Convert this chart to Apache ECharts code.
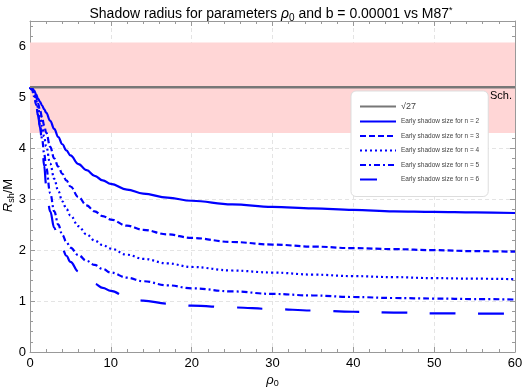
<!DOCTYPE html>
<html>
<head>
<meta charset="utf-8">
<script src="https://cdn.jsdelivr.net/npm/echarts@6/dist/echarts.min.js"></script>
<style>
html,body{margin:0;padding:0;background:#fff;}
#chart{width:523px;height:392px;}
</style>
</head>
<body>
<div id="chart"></div>
<script>
// ---- data ----
const xs = [0, 0.25, 0.5, 0.75, 1, 1.25, 1.5, 1.75, 2, 2.5, 3, 3.5, 4, 4.5, 5, 6, 7, 8, 9, 10, 12, 14, 17, 20, 25, 30, 35, 40, 45, 50, 55, 60];
const n2 = [5.196, 5.18, 5.14, 5.06, 4.97, 4.91, 4.84, 4.77, 4.70, 4.54, 4.38, 4.22, 4.08, 3.96, 3.86, 3.69, 3.57, 3.46, 3.37, 3.30, 3.19, 3.11, 3.03, 2.97, 2.90, 2.85, 2.82, 2.79, 2.76, 2.75, 2.74, 2.73];
const n3 = [5.196, 5.17, 5.10, 5.00, 4.88, 4.74, 4.60, 4.45, 4.31, 4.03, 3.80, 3.64, 3.50, 3.37, 3.25, 3.04, 2.88, 2.76, 2.67, 2.60, 2.48, 2.40, 2.31, 2.24, 2.16, 2.11, 2.07, 2.04, 2.02, 2.00, 1.98, 1.97];
const n4 = [5.196, 5.16, 5.07, 4.95, 4.80, 4.62, 4.43, 4.23, 4.04, 3.70, 3.40, 3.16, 2.96, 2.81, 2.68, 2.47, 2.31, 2.19, 2.10, 2.03, 1.91, 1.83, 1.74, 1.67, 1.60, 1.56, 1.52, 1.49, 1.47, 1.45, 1.44, 1.43];
const n5 = [5.196, 5.14, 5.02, 4.86, 4.66, 4.44, 4.18, 3.90, 3.62, 3.12, 2.76, 2.50, 2.30, 2.16, 2.05, 1.90, 1.79, 1.71, 1.63, 1.56, 1.46, 1.39, 1.31, 1.25, 1.19, 1.14, 1.11, 1.08, 1.06, 1.05, 1.04, 1.03];
const n6 = [5.196, 5.13, 5.00, 4.84, 4.64, 4.40, 4.10, 3.66, 3.28, 2.76, 2.44, 2.20, 2.03, 1.89, 1.77, 1.58, 1.45, 1.34, 1.26, 1.20, 1.08, 1.01, 0.95, 0.91, 0.875, 0.845, 0.815, 0.79, 0.775, 0.76, 0.755, 0.75];
const sqrt27 = 5.196;
const bandLow = 4.30, bandHigh = 6.08;
const sqrtName = '√27';
const seriesNames = ['Early shadow size for n = 2', 'Early shadow size for n = 3', 'Early shadow size for n = 4', 'Early shadow size for n = 5', 'Early shadow size for n = 6'];
const xTicks = {min: 0, max: 60, interval: 10};
const yTicks = {min: 0, max: 6.5, interval: 1};

const FONT = 'Liberation Sans';
const pair = arr => xs.map((x, i) => [x, arr[i]]);
const blue = '#0000ff';
const dashes = ['solid', [6, 3], [2, 3], [6, 3, 2, 3], [25.6, 22.7]];
const dashOffsets = [0, 0, 0, 0, 24];
const legendDashOffsets = [0, 0, 0, 0, 8.6];
const curves = [n2, n3, n4, n5, n6];

const axisColor = '#999';
function xAxisBase(pos, labels) {
  return {
    type: 'value', position: pos, min: xTicks.min, max: xTicks.max, interval: xTicks.interval,
    axisLine: {show: true, onZero: false, lineStyle: {color: axisColor, width: 1}},
    axisTick: {show: true, inside: true, length: 5, lineStyle: {color: axisColor}},
    minorTick: {show: true, splitNumber: 5, length: 3, lineStyle: {color: axisColor}},
    axisLabel: {show: labels, color: '#000', fontSize: 13, fontFamily: FONT, margin: 5},
    splitLine: {show: labels, lineStyle: {color: '#e4e4e4', type: [4, 3]}},
    minorSplitLine: {show: false}
  };
}
function yAxisBase(pos, labels) {
  return {
    type: 'value', position: pos, min: yTicks.min, max: yTicks.max, interval: yTicks.interval,
    axisLine: {show: true, onZero: false, lineStyle: {color: axisColor, width: 1}},
    axisTick: {show: true, inside: true, length: 5, lineStyle: {color: axisColor}},
    minorTick: {show: true, splitNumber: 5, length: 3, lineStyle: {color: axisColor}},
    axisLabel: {show: labels, color: '#000', fontSize: 13, fontFamily: FONT, margin: 4,
      formatter: v => (Math.abs(v - Math.round(v)) < 1e-9 ? String(Math.round(v)) : '')},
    splitLine: {show: labels, lineStyle: {color: '#e4e4e4', type: [4, 3]}}
  };
}

const xA = xAxisBase('bottom', true);
xA.name = '{i|ρ}{sub|0}';
xA.nameLocation = 'middle';
xA.nameGap = 20;
xA.nameMoveOverlap = false;
xA.nameTextStyle = {fontFamily: FONT, fontSize: 13, color: '#000',
  rich: {i: {fontStyle: 'italic', fontSize: 13, fontFamily: FONT}, sub: {fontSize: 9, fontFamily: FONT, padding: [7, 0, 0, 0]}}};
const yA = yAxisBase('left', true);
yA.name = '{i|R}{sub|sh}/M';
yA.nameLocation = 'middle';
yA.nameGap = 14;
yA.nameMoveOverlap = false;
yA.nameTextStyle = {fontFamily: FONT, fontSize: 13, color: '#000', padding: [0, 18, 0, 0],
  rich: {i: {fontStyle: 'italic', fontSize: 13, fontFamily: FONT}, sub: {fontSize: 9, fontFamily: FONT, padding: [7, 0, 0, 0]}}};

const series = [{
  name: sqrtName, type: 'line', symbol: 'none', silent: true,
  data: [[0, sqrt27], [60, sqrt27]],
  lineStyle: {color: '#777', width: 2}, itemStyle: {color: '#777'},
  z: 3,
  markArea: {silent: true, itemStyle: {color: '#ffd6d6'}, data: [[{yAxis: bandLow}, {yAxis: bandHigh}]]},
  markLine: {silent: true, symbol: 'none', data: [{yAxis: sqrt27}],
    lineStyle: {color: '#777', width: 2, type: 'solid'},
    label: {show: true, position: 'insideEndBottom', formatter: 'Sch.', color: '#000', fontSize: 11, fontFamily: FONT, distance: 3}}
}];
curves.forEach((arr, k) => {
  series.push({
    name: seriesNames[k], type: 'line', symbol: 'none', silent: true,
    smooth: 0.4, smoothMonotone: 'x',
    data: pair(arr),
    lineStyle: {color: blue, width: 2.2, type: dashes[k], dashOffset: dashOffsets[k]}, itemStyle: {color: blue},
    z: 4
  });
});

const option = {
  animation: false,
  backgroundColor: '#fff',
  title: {
    text: 'Shadow radius for parameters {i|ρ}{sub|0} and b = 0.00001 vs M87{sup|*}',
    left: 266, top: 1, textAlign: 'center',
    textStyle: {fontFamily: FONT, fontSize: 14, fontWeight: 'normal', color: '#000',
      rich: {i: {fontStyle: 'italic', fontSize: 14, fontFamily: FONT}, sub: {fontSize: 10, fontFamily: FONT, padding: [7, 0, 0, 0]}, sup: {fontSize: 9, fontFamily: FONT, padding: [0, 0, 7, 0]}}}
  },
  grid: {left: 30, right: 8, top: 21, bottom: 40, containLabel: false, outerBoundsMode: 'none'},
  xAxis: [xA, xAxisBase('top', false)],
  yAxis: [yA, yAxisBase('right', false)],
  legend: {
    orient: 'vertical', left: 351, top: 91,
    backgroundColor: '#fff', borderColor: '#ddd', borderWidth: 1, borderRadius: 5,
    padding: [11, 9, 13, 8],
    itemWidth: 36, itemHeight: 10, itemGap: 6.5,
    itemStyle: {opacity: 0},
    formatter: name => (name === sqrtName ? '{b|' + name + '}' : name),
    textStyle: {fontFamily: FONT, fontSize: 6.5, color: '#444', rich: {b: {fontSize: 9, fontFamily: FONT, color: '#444'}}},
    data: [{name: sqrtName}].concat(seriesNames.map((nm, k) => ({name: nm, lineStyle: {dashOffset: legendDashOffsets[k]}}))),
    selectedMode: false
  },
  series: series
};
const chart = echarts.init(document.getElementById('chart'), null, {renderer: 'canvas'});
chart.setOption(option);
</script>
</body>
</html>
